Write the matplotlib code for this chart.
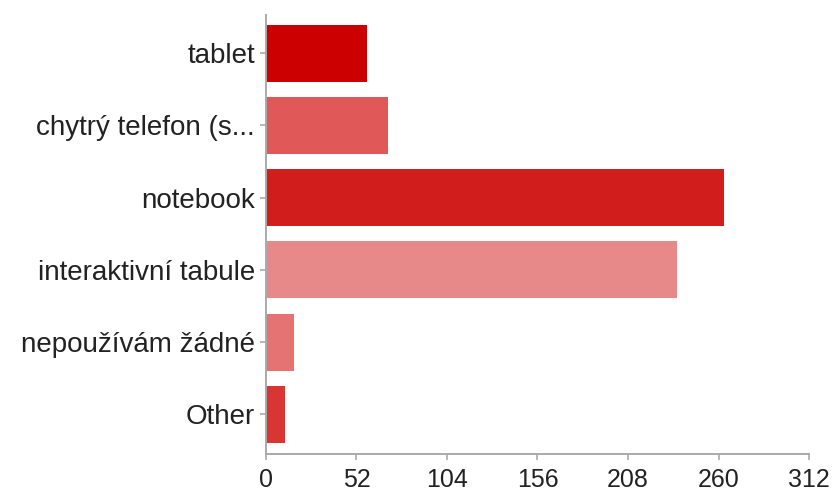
import matplotlib
matplotlib.use("Agg")
import matplotlib.pyplot as plt

categories = ["tablet", "chytrý telefon (s...", "notebook", "interaktivní tabule",
              "nepoužívám žádné", "Other"]
counts = [58, 70, 263, 236, 16, 11]
colors = ["#cc0000", "#e05858", "#d21d1d", "#e78989", "#e67373", "#d93535"]
x_ticks = [0, 52, 104, 156, 208, 260, 312]

plt.rcParams["font.family"] = ["Liberation Sans", "DejaVu Sans"]

fig = plt.figure(figsize=(8.33, 4.88), dpi=100)
ax = fig.add_axes([0.3193, 0.0697, 0.6519, 0.8996])

pos = list(range(len(categories)))
ax.barh(pos, counts, height=0.79, color=colors)

ax.set_ylim(5.55, -0.53)
ax.set_xlim(0, 312)
ax.set_xticks(x_ticks)
ax.set_yticks(pos)
ax.set_yticklabels(categories)

for side in ("top", "right"):
    ax.spines[side].set_visible(False)
for side in ("left", "bottom"):
    ax.spines[side].set_color("#aaaaaa")
    ax.spines[side].set_linewidth(1.4)

ax.tick_params(axis="both", direction="out", length=4, width=1.2,
               color="#aaaaaa", labelcolor="#222222")
ax.tick_params(axis="x", labelsize=18, pad=6)
ax.tick_params(axis="y", labelsize=20, pad=4)

fig.savefig("out.png", dpi=100)
